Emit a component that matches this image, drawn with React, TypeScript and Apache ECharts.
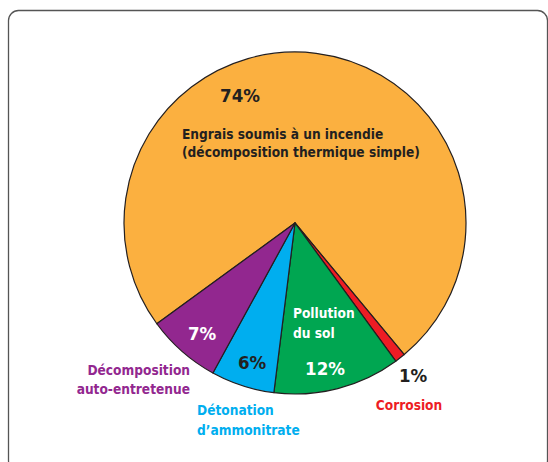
import React, { useEffect, useRef } from "react";
import * as echarts from "echarts";

const categories = [
  "Engrais soumis à un incendie (décomposition thermique simple)",
  "Corrosion",
  "Pollution du sol",
  "Détonation d’ammonitrate",
  "Décomposition auto-entretenue",
];
const values = [74, 1, 12, 6, 7];
const colors = ["#FBB040", "#ED1C24", "#00A651", "#00AEEF", "#92278F"];

const FONT = "'DejaVu Sans Condensed', 'Liberation Sans Narrow', 'Open Sans', sans-serif";
const DARK = "#231f20";

function txt(text: string, x: number, y: number, fill: string, size: number, align: string = "left") {
  return {
    type: "text",
    x,
    y,
    style: {
      text,
      fill,
      font: `bold ${size}px ${FONT}`,
      textAlign: align,
      textVerticalAlign: "middle",
    },
    z: 10,
  };
}

export default function App() {
  const ref = useRef<HTMLDivElement>(null);
  useEffect(() => {
    const chart = echarts.init(ref.current!, null, { renderer: "svg" });
    const pct = (i: number) => `${values[i]}%`;
    const L = 13.6;
    const P = 18.5;
    chart.setOption({
      animation: false,
      backgroundColor: "#ffffff",
      series: [
        {
          type: "pie",
          center: [295, 223],
          radius: 171,
          startAngle: 216.1,
          clockwise: true,
          label: { show: false },
          labelLine: { show: false },
          emphasis: { disabled: true },
          itemStyle: { borderColor: DARK, borderWidth: 1.2 },
          data: categories.map((name, i) => ({
            name,
            value: values[i],
            itemStyle: { color: colors[i] },
          })),
        },
      ],
      graphic: [
        {
          type: "rect",
          shape: { x: 8.5, y: 10.5, width: 539, height: 460, r: 10 },
          style: { fill: "none", stroke: "#555555", lineWidth: 1.3 },
          z: 0,
        },
        txt(pct(0), 240, 95, DARK, P, "center"),
        txt("Engrais soumis à un incendie", 182, 134, DARK, L),
        txt("(décomposition thermique simple)", 182, 152, DARK, L),
        txt(pct(4), 202, 333, "#ffffff", P, "center"),
        txt(pct(3), 252, 362, DARK, P, "center"),
        txt(pct(2), 325, 368, "#ffffff", P, "center"),
        txt(pct(1), 413, 375, DARK, P, "center"),
        txt("Pollution", 293, 313, "#ffffff", L),
        txt("du sol", 293, 333, "#ffffff", L),
        txt("Décomposition", 190, 370, colors[4], L, "right"),
        txt("auto-entretenue", 190, 389, colors[4], L, "right"),
        txt("Détonation", 197, 410, colors[3], L),
        txt("d’ammonitrate", 197, 430, colors[3], L),
        txt("Corrosion", 409, 405, colors[1], L, "center"),
      ],
    });
    return () => chart.dispose();
  }, []);
  return (
    <div
      ref={ref}
      style={{ position: "fixed", left: 0, top: 0, width: 548, height: 462 }}
    />
  );
}
